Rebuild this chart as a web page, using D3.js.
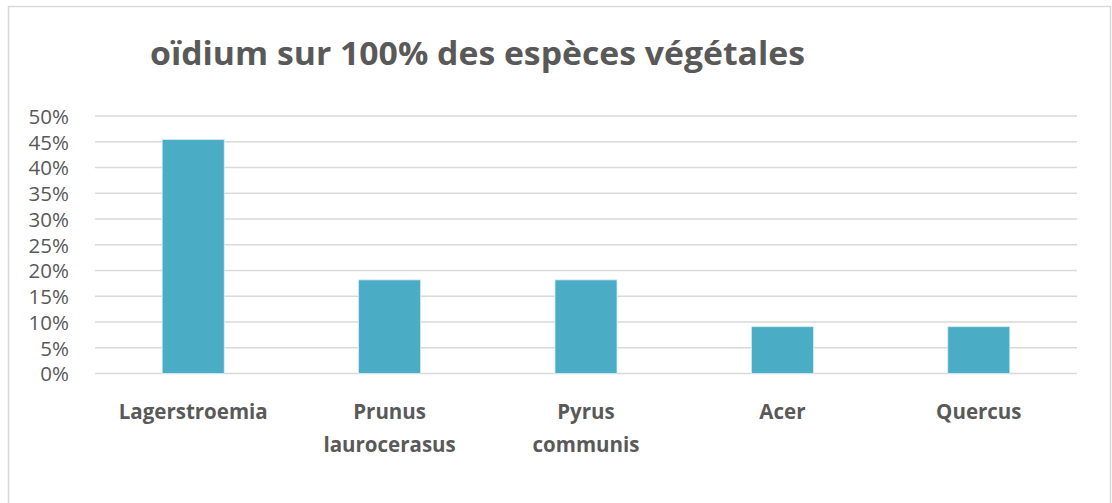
<!DOCTYPE html>
<html>
<head>
<meta charset="utf-8">
<script src="https://cdn.jsdelivr.net/npm/d3@7"></script>
<style>
  body { margin: 0; background: #fff; }
  text { font-family: "Open Sans", sans-serif; fill: #595959; }
</style>
</head>
<body>
<div id="chart"></div>
<script>
// data
var species = ["Lagerstroemia", "Prunus laurocerasus", "Pyrus communis", "Acer", "Quercus"];
var labelLines = [["Lagerstroemia"], ["Prunus", "laurocerasus"], ["Pyrus", "communis"], ["Acer"], ["Quercus"]];
var shares = [0.4545, 0.1818, 0.1818, 0.0909, 0.0909];
var yTicks = [0, 0.05, 0.1, 0.15, 0.2, 0.25, 0.3, 0.35, 0.4, 0.45, 0.5];
var title = "oïdium sur 100% des espèces végétales";

var width = 1112, height = 503;
var margin = {top: 116, right: 35, bottom: 129.5, left: 95};

var svg = d3.select("#chart").append("svg")
    .attr("width", width)
    .attr("height", height);

// frame
svg.append("rect")
    .attr("x", 8.5).attr("y", 6.5)
    .attr("width", 1102).attr("height", 510)
    .attr("fill", "none")
    .attr("stroke", "#d9d9d9")
    .attr("stroke-width", 1.5);

var x = d3.scaleBand()
    .domain(species)
    .range([margin.left, width - margin.right])
    .paddingInner(0.684)
    .paddingOuter(0.342);

var y = d3.scaleLinear()
    .domain([0, 0.5])
    .range([height - margin.bottom, margin.top]);

// gridlines
svg.append("g")
    .selectAll("line")
    .data(yTicks)
    .enter().append("line")
    .attr("x1", margin.left)
    .attr("x2", width - margin.right)
    .attr("y1", function(d) { return y(d); })
    .attr("y2", function(d) { return y(d); })
    .attr("stroke", "#d9d9d9")
    .attr("stroke-width", 1.5);

// y axis labels
var yAxis = d3.axisLeft(y)
    .tickValues(yTicks)
    .tickFormat(d3.format(".0%"))
    .tickSize(0)
    .tickPadding(0);

var ya = svg.append("g")
    .attr("transform", "translate(69,0)")
    .call(yAxis);
ya.select(".domain").remove();
ya.selectAll("text")
    .attr("font-family", "Open Sans, sans-serif")
    .attr("font-size", 20.5)
    .attr("dy", "0.36em")
    .style("fill", "#595959");

// bars
svg.append("g")
    .selectAll("rect")
    .data(shares)
    .enter().append("rect")
    .attr("x", function(d, i) { return x(species[i]); })
    .attr("width", x.bandwidth())
    .attr("y", function(d) { return y(d); })
    .attr("height", function(d) { return y(0) - y(d); })
    .attr("fill", "#4bacc6")
    .attr("stroke", "#d8eef4")
    .attr("stroke-width", 0.8);

// x labels
var xl = svg.append("g")
    .selectAll("text")
    .data(labelLines)
    .enter().append("text")
    .attr("text-anchor", "middle")
    .attr("font-size", 20.5)
    .attr("font-weight", "bold")
    .attr("transform", function(d, i) {
        return "translate(" + (x(species[i]) + x.bandwidth() / 2) + ",419)";
    });
xl.selectAll("tspan")
    .data(function(d) { return d; })
    .enter().append("tspan")
    .attr("x", 0)
    .attr("y", function(d, j) { return j * 33; })
    .text(function(d) { return d; });

// title
svg.append("text")
    .attr("x", 477.5)
    .attr("y", 65)
    .attr("text-anchor", "middle")
    .attr("font-size", 33)
    .attr("font-weight", "bold")
    .attr("textLength", 655)
    .attr("lengthAdjust", "spacingAndGlyphs")
    .text(title);
</script>
</body>
</html>
